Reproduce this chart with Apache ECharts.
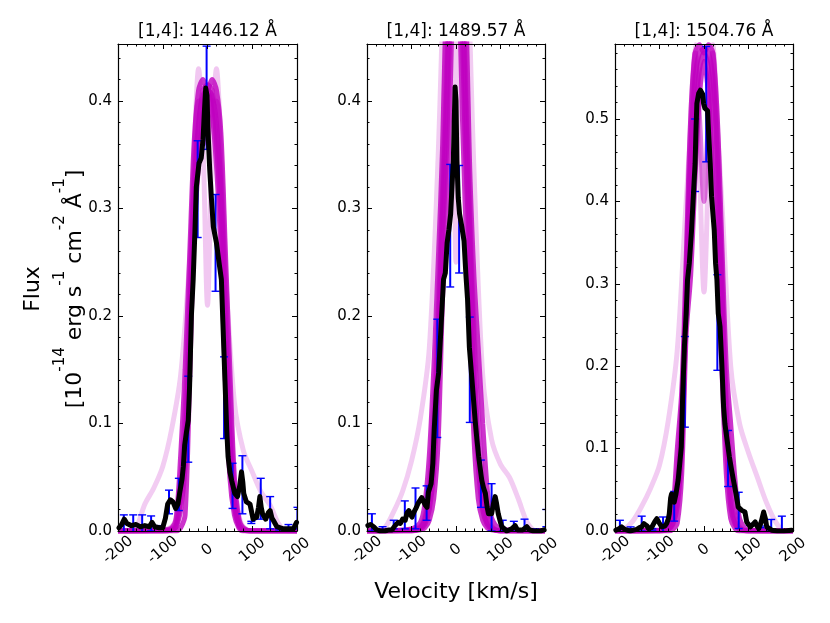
<!DOCTYPE html>
<html><head><meta charset="utf-8">
<script src="https://cdn.jsdelivr.net/npm/echarts@6/dist/echarts.min.js"></script>
<style>html,body{margin:0;padding:0;background:#fff}#c{width:830px;height:623px}</style>
</head><body><div id="c"></div><script>
// ---------- data ----------
const titles = ['[1,4]: 1446.12 Å', '[1,4]: 1489.57 Å', '[1,4]: 1504.76 Å'];
const yMax = [0.453, 0.453, 0.591];
const xMin = -200, xMax = 200;

// velocity grid for the narrow model profiles
const modelGrid = [-200,-100,-80,-70,-60,-50,-40,-30,-20,-10,0,10,20,30,40,50,60,70,80,100,200];
// velocity grid for the broad model profile
const broadGrid = [-200,-180,-160,-140,-120,-100,-80,-60,-40,-20,0,20,40,60,80,100,120,140,160,180,200];

const p1Models = [
  [0,0,0,0,0.003,0.015,0.14,0.28,0.34,0.39,0.41,0.39,0.34,0.26,0.14,0.05,0.015,0.003,0,0,0],
  [0,0,0.001,0.005,0.03,0.08,0.19,0.32,0.38,0.405,0.41,0.405,0.38,0.32,0.2,0.09,0.03,0.006,0.001,0,0],
  [0,0,0.002,0.008,0.045,0.11,0.22,0.34,0.4,0.4,0.36,0.4,0.4,0.34,0.23,0.12,0.04,0.009,0.002,0,0],
  [0,0.001,0.004,0.012,0.05,0.12,0.23,0.35,0.43,0.36,0.21,0.36,0.43,0.36,0.25,0.13,0.05,0.015,0.004,0,0],
  [0,0.001,0.003,0.012,0.07,0.15,0.255,0.36,0.41,0.42,0.41,0.42,0.41,0.37,0.26,0.15,0.05,0.012,0.003,0,0],
  [0,0,0.001,0.004,0.02,0.06,0.17,0.3,0.37,0.41,0.415,0.41,0.36,0.29,0.17,0.07,0.022,0.005,0.001,0,0]
];
const p1Broad = [0,0,0.003,0.025,0.04,0.06,0.095,0.145,0.25,0.37,0.41,0.37,0.24,0.12,0.075,0.055,0.036,0.024,0.006,0,0];

const p2Models = [
  [0,0,0.001,0.003,0.01,0.03,0.085,0.22,0.31,0.46,0.75,0.46,0.31,0.21,0.09,0.03,0.01,0.003,0.001,0,0],
  [0,0,0.002,0.006,0.02,0.055,0.14,0.27,0.37,0.55,0.8,0.55,0.37,0.26,0.14,0.06,0.02,0.006,0.002,0,0],
  [0,0.001,0.004,0.012,0.04,0.1,0.2,0.32,0.45,0.7,0.85,0.7,0.45,0.31,0.19,0.1,0.04,0.014,0.004,0,0],
  [0,0.001,0.005,0.015,0.05,0.12,0.22,0.34,0.5,0.52,0.25,0.52,0.5,0.33,0.21,0.12,0.05,0.018,0.005,0,0],
  [0,0.002,0.008,0.025,0.07,0.15,0.25,0.36,0.55,0.85,0.95,0.85,0.55,0.35,0.24,0.17,0.1,0.04,0.012,0.002,0],
  [0,0.001,0.003,0.01,0.03,0.08,0.18,0.3,0.42,0.6,0.9,0.6,0.42,0.29,0.17,0.08,0.03,0.01,0.003,0,0]
];
const p2Broad = [0,0,0.003,0.018,0.037,0.065,0.105,0.17,0.35,0.6,0.7,0.6,0.34,0.145,0.085,0.062,0.05,0.03,0.008,0,0];

const p3Models = [
  [0,0,0,0.002,0.01,0.07,0.24,0.31,0.43,0.53,0.57,0.53,0.43,0.32,0.2,0.07,0.015,0.003,0,0,0],
  [0,0,0.002,0.008,0.03,0.1,0.27,0.4,0.5,0.56,0.58,0.56,0.5,0.4,0.26,0.11,0.03,0.008,0.002,0,0],
  [0,0.001,0.004,0.015,0.06,0.14,0.3,0.46,0.58,0.5,0.4,0.5,0.58,0.46,0.3,0.15,0.06,0.018,0.004,0,0],
  [0,0.001,0.005,0.02,0.08,0.16,0.32,0.5,0.59,0.44,0.29,0.44,0.59,0.5,0.33,0.17,0.08,0.025,0.006,0,0],
  [0,0.001,0.006,0.025,0.1,0.17,0.33,0.5,0.58,0.59,0.58,0.59,0.58,0.5,0.35,0.2,0.13,0.06,0.015,0.001,0],
  [0,0,0.003,0.012,0.045,0.13,0.3,0.45,0.55,0.58,0.585,0.58,0.55,0.45,0.3,0.14,0.045,0.012,0.003,0,0]
];
const p3Broad = [0,0.002,0.012,0.03,0.052,0.08,0.135,0.22,0.4,0.55,0.58,0.55,0.4,0.2,0.13,0.095,0.065,0.035,0.012,0,0];

// observed flux [velocity, flux]
const p1Line = [[-198,0.003],[-192,0.006],[-186,0.011],[-180,0.007],[-170,0.005],[-160,0.006],[-150,0.004],[-140,0.005],[-130,0.004],[-124,0.008],[-118,0.004],[-108,0.003],[-100,0.003],[-94,0.012],[-89,0.025],[-83,0.029],[-77,0.027],[-71,0.021],[-66,0.025],[-62,0.036],[-57,0.048],[-54,0.06],[-51,0.08],[-47,0.092],[-43,0.103],[-40,0.135],[-36,0.2],[-32,0.234],[-28,0.28],[-25,0.32],[-19,0.342],[-14,0.347],[-10,0.364],[-7,0.39],[-4,0.412],[-1,0.405],[1,0.373],[5,0.336],[9,0.308],[13,0.283],[20,0.268],[27,0.246],[31,0.234],[35,0.187],[39,0.14],[43,0.094],[46,0.069],[50,0.055],[54,0.047],[61,0.035],[67,0.032],[72,0.042],[76,0.055],[79,0.045],[81,0.035],[87,0.027],[95,0.025],[102,0.011],[110,0.013],[114,0.022],[117,0.032],[120,0.022],[123,0.016],[130,0.011],[136,0.017],[140,0.019],[144,0.012],[147,0.01],[155,0.004],[169,0.002],[185,0.002],[192,0.002],[199,0.008]];
const p2Line = [[-198,0.005],[-192,0.006],[-185,0.004],[-178,0.001],[-170,0],[-160,0],[-150,0.001],[-144,0.001],[-137,0.005],[-130,0.008],[-125,0.007],[-120,0.011],[-114,0.01],[-110,0.017],[-106,0.019],[-102,0.015],[-99,0.013],[-94,0.018],[-89,0.022],[-85,0.026],[-82,0.027],[-77,0.031],[-73,0.03],[-69,0.024],[-65,0.022],[-62,0.036],[-56,0.044],[-52,0.063],[-49,0.094],[-44,0.131],[-39,0.147],[-32,0.203],[-28,0.234],[-24,0.24],[-20,0.268],[-16,0.28],[-12,0.295],[-9,0.32],[-6,0.345],[-4,0.38],[-2,0.413],[0,0.4],[2,0.345],[5,0.31],[8,0.295],[13,0.283],[18,0.27],[22,0.24],[26,0.215],[30,0.171],[36,0.14],[43,0.103],[47,0.085],[51,0.069],[58,0.047],[62,0.04],[66,0.035],[70,0.022],[73,0.016],[80,0.016],[84,0.025],[88,0.032],[91,0.026],[95,0.016],[100,0.008],[103,0.004],[114,0],[125,0.002],[133,0.005],[138,0.001],[150,0.001],[159,0.004],[165,0.001],[174,0],[190,0],[198,0.001]];
const p3Line = [[-198,0.001],[-190,0.003],[-185,0.005],[-178,0.002],[-166,0],[-158,0.001],[-151,0.002],[-145,0.004],[-140,0.005],[-135,0.009],[-132,0.011],[-128,0.006],[-125,0.003],[-118,0.004],[-114,0.005],[-110,0.012],[-106,0.015],[-101,0.01],[-95,0.005],[-88,0.006],[-84,0.009],[-80,0.015],[-78,0.021],[-75,0.04],[-73,0.045],[-70,0.04],[-67,0.035],[-63,0.045],[-58,0.062],[-54,0.085],[-51,0.102],[-48,0.163],[-44,0.224],[-40,0.264],[-37,0.305],[-33,0.325],[-28,0.365],[-24,0.406],[-20,0.446],[-18,0.487],[-16,0.519],[-12,0.531],[-8,0.535],[-5,0.537],[-3,0.53],[-1,0.519],[2,0.513],[6,0.513],[8,0.51],[10,0.487],[14,0.446],[17,0.406],[23,0.365],[26,0.325],[29,0.305],[32,0.264],[36,0.248],[40,0.203],[44,0.151],[47,0.13],[51,0.114],[57,0.09],[62,0.074],[66,0.062],[72,0.045],[77,0.029],[85,0.025],[92,0.023],[96,0.011],[104,0.005],[110,0.008],[115,0.011],[119,0.006],[123,0.003],[128,0.01],[134,0.023],[138,0.015],[141,0.005],[152,0.001],[165,0],[179,0],[197,0.001]];

// error bars [velocity, flux, error]
const p1Err = [[-187,0.007,0.008],[-166,0.007,0.008],[-146,0.007,0.008],[-126,0.007,0.007],[-106,0.004,0.001],[-86,0.027,0.011],[-64,0.034,0.015],[-43,0.104,0.04],[-22,0.318,0.045],[-2,0.403,0.048],[18,0.268,0.045],[37,0.124,0.038],[56,0.042,0.021],[78,0.043,0.027],[98,0.008,0.001],[119,0.03,0.019],[140,0.017,0.015],[160,0.002,0.001],[181,0.003,0.003],[201,0.012,0.01]];
const p2Err = [[-189,0.008,0.008],[-165,0.002,0.002],[-140,0.006,0.004],[-115,0.015,0.013],[-91,0.021,0.019],[-66,0.026,0.016],[-42,0.142,0.055],[-13,0.284,0.057],[7,0.29,0.05],[31,0.15,0.049],[56,0.044,0.022],[80,0.022,0.022],[105,0.005,0.005],[130,0.005,0.004],[154,0.005,0.006],[178,0.001,0.001],[203,0.012,0.008]];
const p3Err = [[-189,0.006,0.007],[-165,0.003,0.002],[-140,0.009,0.009],[-116,0.002,0.001],[-92,0.008,0.009],[-67,0.03,0.018],[-43,0.181,0.055],[-20,0.456,0.044],[5,0.518,0.07],[30,0.253,0.058],[54,0.088,0.034],[78,0.025,0.022],[103,0.008,0.001],[127,0.005,0.001],[151,0.007,0.007],[175,0.009,0.009]];

// ---------- styles / layout ----------
const FONT = 'DejaVu Sans';
const MAG = '#bf00bf';
const modelOpacity = [0.8, 0.8, 0.5, 0.22, 0.8, 0.8];
const panels = [
  {left: 118, width: 179, models: p1Models, broad: p1Broad, line: p1Line, err: p1Err},
  {left: 367, width: 178, models: p2Models, broad: p2Broad, line: p2Line, err: p2Err},
  {left: 615, width: 178, models: p3Models, broad: p3Broad, line: p3Line, err: p3Err}
];
const TOP = 44, HEIGHT = 487;

const grids = [], xAxes = [], yAxes = [], series = [], graphics = [];

function xAx(gi, pos, interval, len, main, labels) {
  return {
    type: 'value', gridIndex: gi, position: pos, min: xMin, max: xMax, interval: interval, z: 10,
    axisLine: {show: main, onZero: false, lineStyle: {color: '#000', width: 1.2}},
    axisTick: {show: true, inside: true, length: len, lineStyle: {color: '#000', width: 1}},
    axisLabel: {show: labels, rotate: 40, align: 'center', verticalAlign: 'middle', margin: 19,
      color: '#000', fontFamily: FONT, fontSize: 15, formatter: v => String(v)},
    splitLine: {show: false}
  };
}
function yAx(gi, pos, max, interval, len, main, labels) {
  return {
    type: 'value', gridIndex: gi, position: pos, min: 0, max: max, interval: interval, z: 10,
    axisLine: {show: main, onZero: false, lineStyle: {color: '#000', width: 1.2}},
    axisTick: {show: true, inside: true, length: len, lineStyle: {color: '#000', width: 1}},
    axisLabel: {show: labels, margin: 6, color: '#000', fontFamily: FONT, fontSize: 15,
      showMaxLabel: false, formatter: v => v.toFixed(1)},
    splitLine: {show: false}
  };
}

function renderErr(params, api) {
  const x = api.value(0), y = api.value(1), e = api.value(2);
  const t = api.coord([x, y + e]), b = api.coord([x, y - e]);
  const hw = 4;
  const st = {stroke: '#0000ff', lineWidth: 1.4};
  return {type: 'group', children: [
    {type: 'line', shape: {x1: t[0], y1: t[1], x2: b[0], y2: b[1]}, style: {stroke: '#0000ff', lineWidth: 2}},
    {type: 'line', shape: {x1: t[0] - hw, y1: t[1], x2: t[0] + hw, y2: t[1]}, style: st},
    {type: 'line', shape: {x1: b[0] - hw, y1: b[1], x2: b[0] + hw, y2: b[1]}, style: st}
  ]};
}

panels.forEach((p, i) => {
  grids.push({left: p.left, top: TOP, width: p.width, height: HEIGHT, containLabel: false});
  xAxes.push(xAx(i, 'bottom', 100, 5, true, true));
  xAxes.push(xAx(i, 'bottom', 20, 2.5, false, false));
  xAxes.push(xAx(i, 'top', 100, 5, true, false));
  xAxes.push(xAx(i, 'top', 20, 2.5, false, false));
  yAxes.push(yAx(i, 'left', yMax[i], 0.1, 5, true, true));
  yAxes.push(yAx(i, 'left', yMax[i], 0.02, 2.5, false, false));
  yAxes.push(yAx(i, 'right', yMax[i], 0.1, 5, true, false));
  yAxes.push(yAx(i, 'right', yMax[i], 0.02, 2.5, false, false));
  const ax = i * 4;
  series.push({type: 'line', xAxisIndex: ax, yAxisIndex: ax, showSymbol: false, smooth: 0.3,
    data: broadGrid.map((v, k) => [v, p.broad[k]]), z: 1, silent: true,
    lineStyle: {color: MAG, width: 5, opacity: 0.2}});
  p.models.forEach((m, j) => {
    series.push({type: 'line', xAxisIndex: ax, yAxisIndex: ax, showSymbol: false, smooth: 0.3,
      data: modelGrid.map((v, k) => [v, m[k]]), z: 1, silent: true,
      lineStyle: {color: MAG, width: 5, opacity: modelOpacity[j]}});
  });
  series.push({type: 'custom', xAxisIndex: ax, yAxisIndex: ax, renderItem: renderErr, clip: true,
    encode: {x: 0, y: 1}, data: p.err, z: 2, silent: true});
  series.push({type: 'line', xAxisIndex: ax, yAxisIndex: ax, showSymbol: false, data: p.line, z: 3,
    silent: true, lineStyle: {color: '#000', width: 5, join: 'round', cap: 'round'}});
  graphics.push({type: 'text', x: p.left + p.width / 2, y: 31.5,
    style: {text: titles[i], font: '17px "' + FONT + '"', fill: '#000', align: 'center', verticalAlign: 'middle'}});
});

graphics.push({type: 'text', x: 456, y: 592,
  style: {text: 'Velocity [km/s]', font: '22px "' + FONT + '"', fill: '#000', align: 'center', verticalAlign: 'middle'}});
graphics.push({type: 'text', x: 33.5, y: 289, rotation: Math.PI / 2,
  style: {text: 'Flux', font: '22px "' + FONT + '"', fill: '#000', align: 'center', verticalAlign: 'middle'}});
graphics.push({type: 'text', x: 69.5, y: 289, rotation: Math.PI / 2,
  style: {
    text: '{m|[10}{s|-14}{m| erg s}{s|-1}{m| cm}{s|-2}{m| Å}{s|-1}{m|]}',
    align: 'center', verticalAlign: 'middle', fill: '#000',
    rich: {
      m: {fontFamily: FONT, fontSize: 22, lineHeight: 34, verticalAlign: 'bottom', fill: '#000'},
      s: {fontFamily: FONT, fontSize: 15, lineHeight: 15, verticalAlign: 'top', fill: '#000'}
    }
  }});

const chart = echarts.init(document.getElementById('c'), null, {renderer: 'canvas'});
chart.setOption({
  animation: false,
  backgroundColor: '#fff',
  grid: grids, xAxis: xAxes, yAxis: yAxes, series: series, graphic: graphics
});
</script></body></html>
